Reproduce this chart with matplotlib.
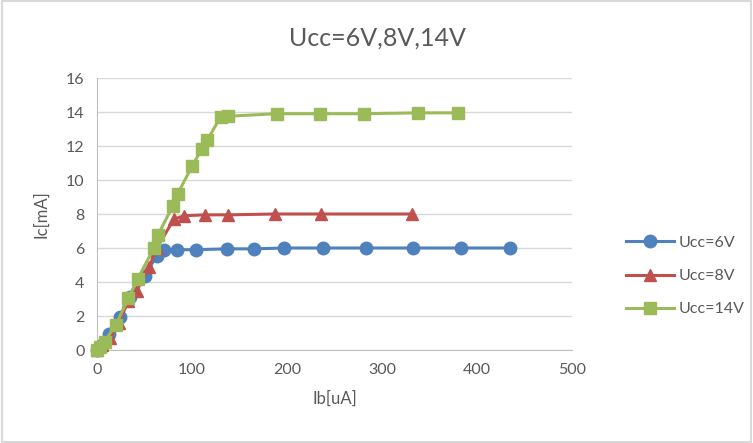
import matplotlib
matplotlib.use("Agg")
import matplotlib.pyplot as plt
from matplotlib.patches import Rectangle

plt.rcParams['font.family'] = ['Lato', 'DejaVu Sans']

ib_6 = [0, 5, 13, 24, 35, 50, 63, 70, 84, 104, 137, 165, 197, 238, 283, 333, 383, 435]
ic_6 = [0, 0.3, 0.95, 1.95, 3.1, 4.35, 5.55, 5.9, 5.9, 5.9, 5.95, 5.95, 6.0, 6.0, 6.0, 6.0, 6.0, 6.0]

ib_8 = [0, 5, 14, 23, 33, 42, 55, 63, 81, 92, 114, 138, 187, 236, 332]
ic_8 = [0, 0.3, 0.7, 1.6, 2.9, 3.5, 4.9, 6.0, 7.7, 7.9, 7.95, 7.95, 8.0, 8.0, 8.0]

ib_14 = [0, 3, 8, 20, 33, 43, 60, 64, 80, 85, 100, 110, 116, 130, 138, 189, 235, 281, 338, 380]
ic_14 = [0, 0.2, 0.5, 1.5, 3.05, 4.2, 6.0, 6.75, 8.5, 9.2, 10.8, 11.8, 12.35, 13.7, 13.75, 13.9, 13.9, 13.9, 13.95, 13.95]

labels = ["Ucc=6V", "Ucc=8V", "Ucc=14V"]
title = "Ucc=6V,8V,14V"
xticks = [0, 100, 200, 300, 400, 500]
yticks = [0, 2, 4, 6, 8, 10, 12, 14, 16]

fig = plt.figure(figsize=(7.53, 4.43), dpi=100)
ax = fig.add_axes([97/753, 93/443, 475/753, 272/443])

ax.plot(ib_6, ic_6, color="#4f81bd", marker="o", markersize=9, lw=2.2, label=labels[0], zorder=3, clip_on=False)
ax.plot(ib_8, ic_8, color="#c0504d", marker="^", markersize=8, lw=2.2, label=labels[1], zorder=4, clip_on=False)
ax.plot(ib_14, ic_14, color="#9bbb59", marker="s", markersize=8, lw=2.2, label=labels[2], zorder=5, clip_on=False)

ax.set_xlim(0, 500)
ax.set_ylim(0, 16)
ax.set_xticks(xticks)
ax.set_yticks(yticks)
ax.grid(axis='y', color="#d9d9d9", lw=1)
ax.set_axisbelow(True)
for s in ['top', 'right']:
    ax.spines[s].set_visible(False)
for s in ['left', 'bottom']:
    ax.spines[s].set_color("#bfbfbf")
ax.tick_params(length=0, labelsize=11.5, colors="#595959", pad=9)
ax.set_xlabel("Ib[uA]", fontsize=12, color="#595959", labelpad=10)
ax.set_ylabel("Ic[mA]", fontsize=12, color="#595959", labelpad=12)

fig.text(377/753, 1 - 38/443, title, ha='center', va='center', fontsize=18, color="#595959")

leg = fig.legend(loc='center left', bbox_to_anchor=(612/753, 1 - 276/443), frameon=False,
                 fontsize=11.5, handlelength=3, labelspacing=1.2, handletextpad=0.3)
for t in leg.get_texts():
    t.set_color("#595959")

fig.patches.append(Rectangle((0.002, 0.003), 0.995, 0.994, transform=fig.transFigure,
                             fill=False, edgecolor="#d9d9d9", lw=1.5))

fig.savefig("out.png", dpi=100)
